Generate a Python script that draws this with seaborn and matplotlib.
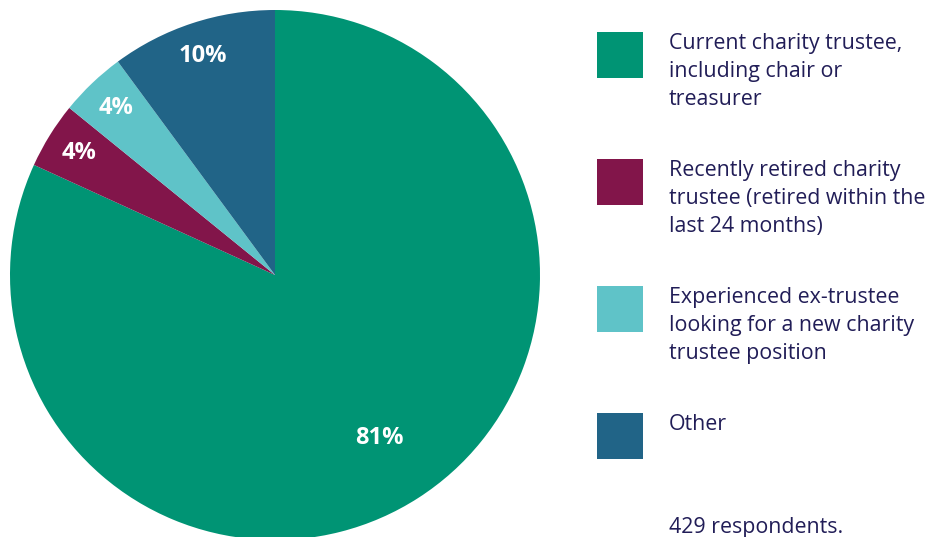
import numpy as np
import seaborn as sns
import matplotlib.pyplot as plt
from matplotlib.patches import Rectangle

# survey answers, share of respondents (%)
categories = [
    "Current charity trustee,\nincluding chair or\ntreasurer",
    "Recently retired charity\ntrustee (retired within the\nlast 24 months)",
    "Experienced ex-trustee\nlooking for a new charity\ntrustee position",
    "Other",
]
shares = [81, 4, 4, 10]
share_labels = ["81%", "4%", "4%", "10%"]
colors = ["#009474", "#82154a", "#5fc3c8", "#216487"]
note = "429 respondents."

sns.set_theme(style="white")
plt.rcParams["font.family"] = ["Open Sans", "DejaVu Sans"]
text_col = "#211d57"

W, H = 932, 537
fig = plt.figure(figsize=(W / 100, H / 100), dpi=100)
ax = fig.add_axes([0, 0, 1, 1])

cx, cy, r = 275, H - 275, 265
wedges, _ = ax.pie(shares, colors=colors, startangle=90, counterclock=False,
                   center=(cx, cy), radius=r, frame=True,
                   wedgeprops=dict(linewidth=0))
ax.set_xlim(0, W)
ax.set_ylim(0, H)
ax.set_aspect("auto")
ax.axis("off")

# slice labels at wedge mid-angles
for i, (w, lab) in enumerate(zip(wedges, share_labels)):
    mid = np.deg2rad((w.theta1 + w.theta2) / 2)
    d = 0.73 if i == 0 else 0.87
    ax.text(cx + d * r * np.cos(mid), cy + d * r * np.sin(mid), lab,
            color="white", fontsize=17, fontweight="bold",
            ha="center", va="center")

# legend drawn by hand
sq, step, top = 46, 127, 32
for i, (cat, c) in enumerate(zip(categories, colors)):
    y = top + i * step
    ax.add_patch(Rectangle((597, H - y - sq), sq, sq, color=c, lw=0))
    ax.text(669, H - y - 1, cat, color=text_col, fontsize=15.4,
            ha="left", va="top", linespacing=1.45)
ax.text(669, H - 517, note, color=text_col, fontsize=15.4, ha="left", va="top")

fig.savefig("out.png", dpi=100)
